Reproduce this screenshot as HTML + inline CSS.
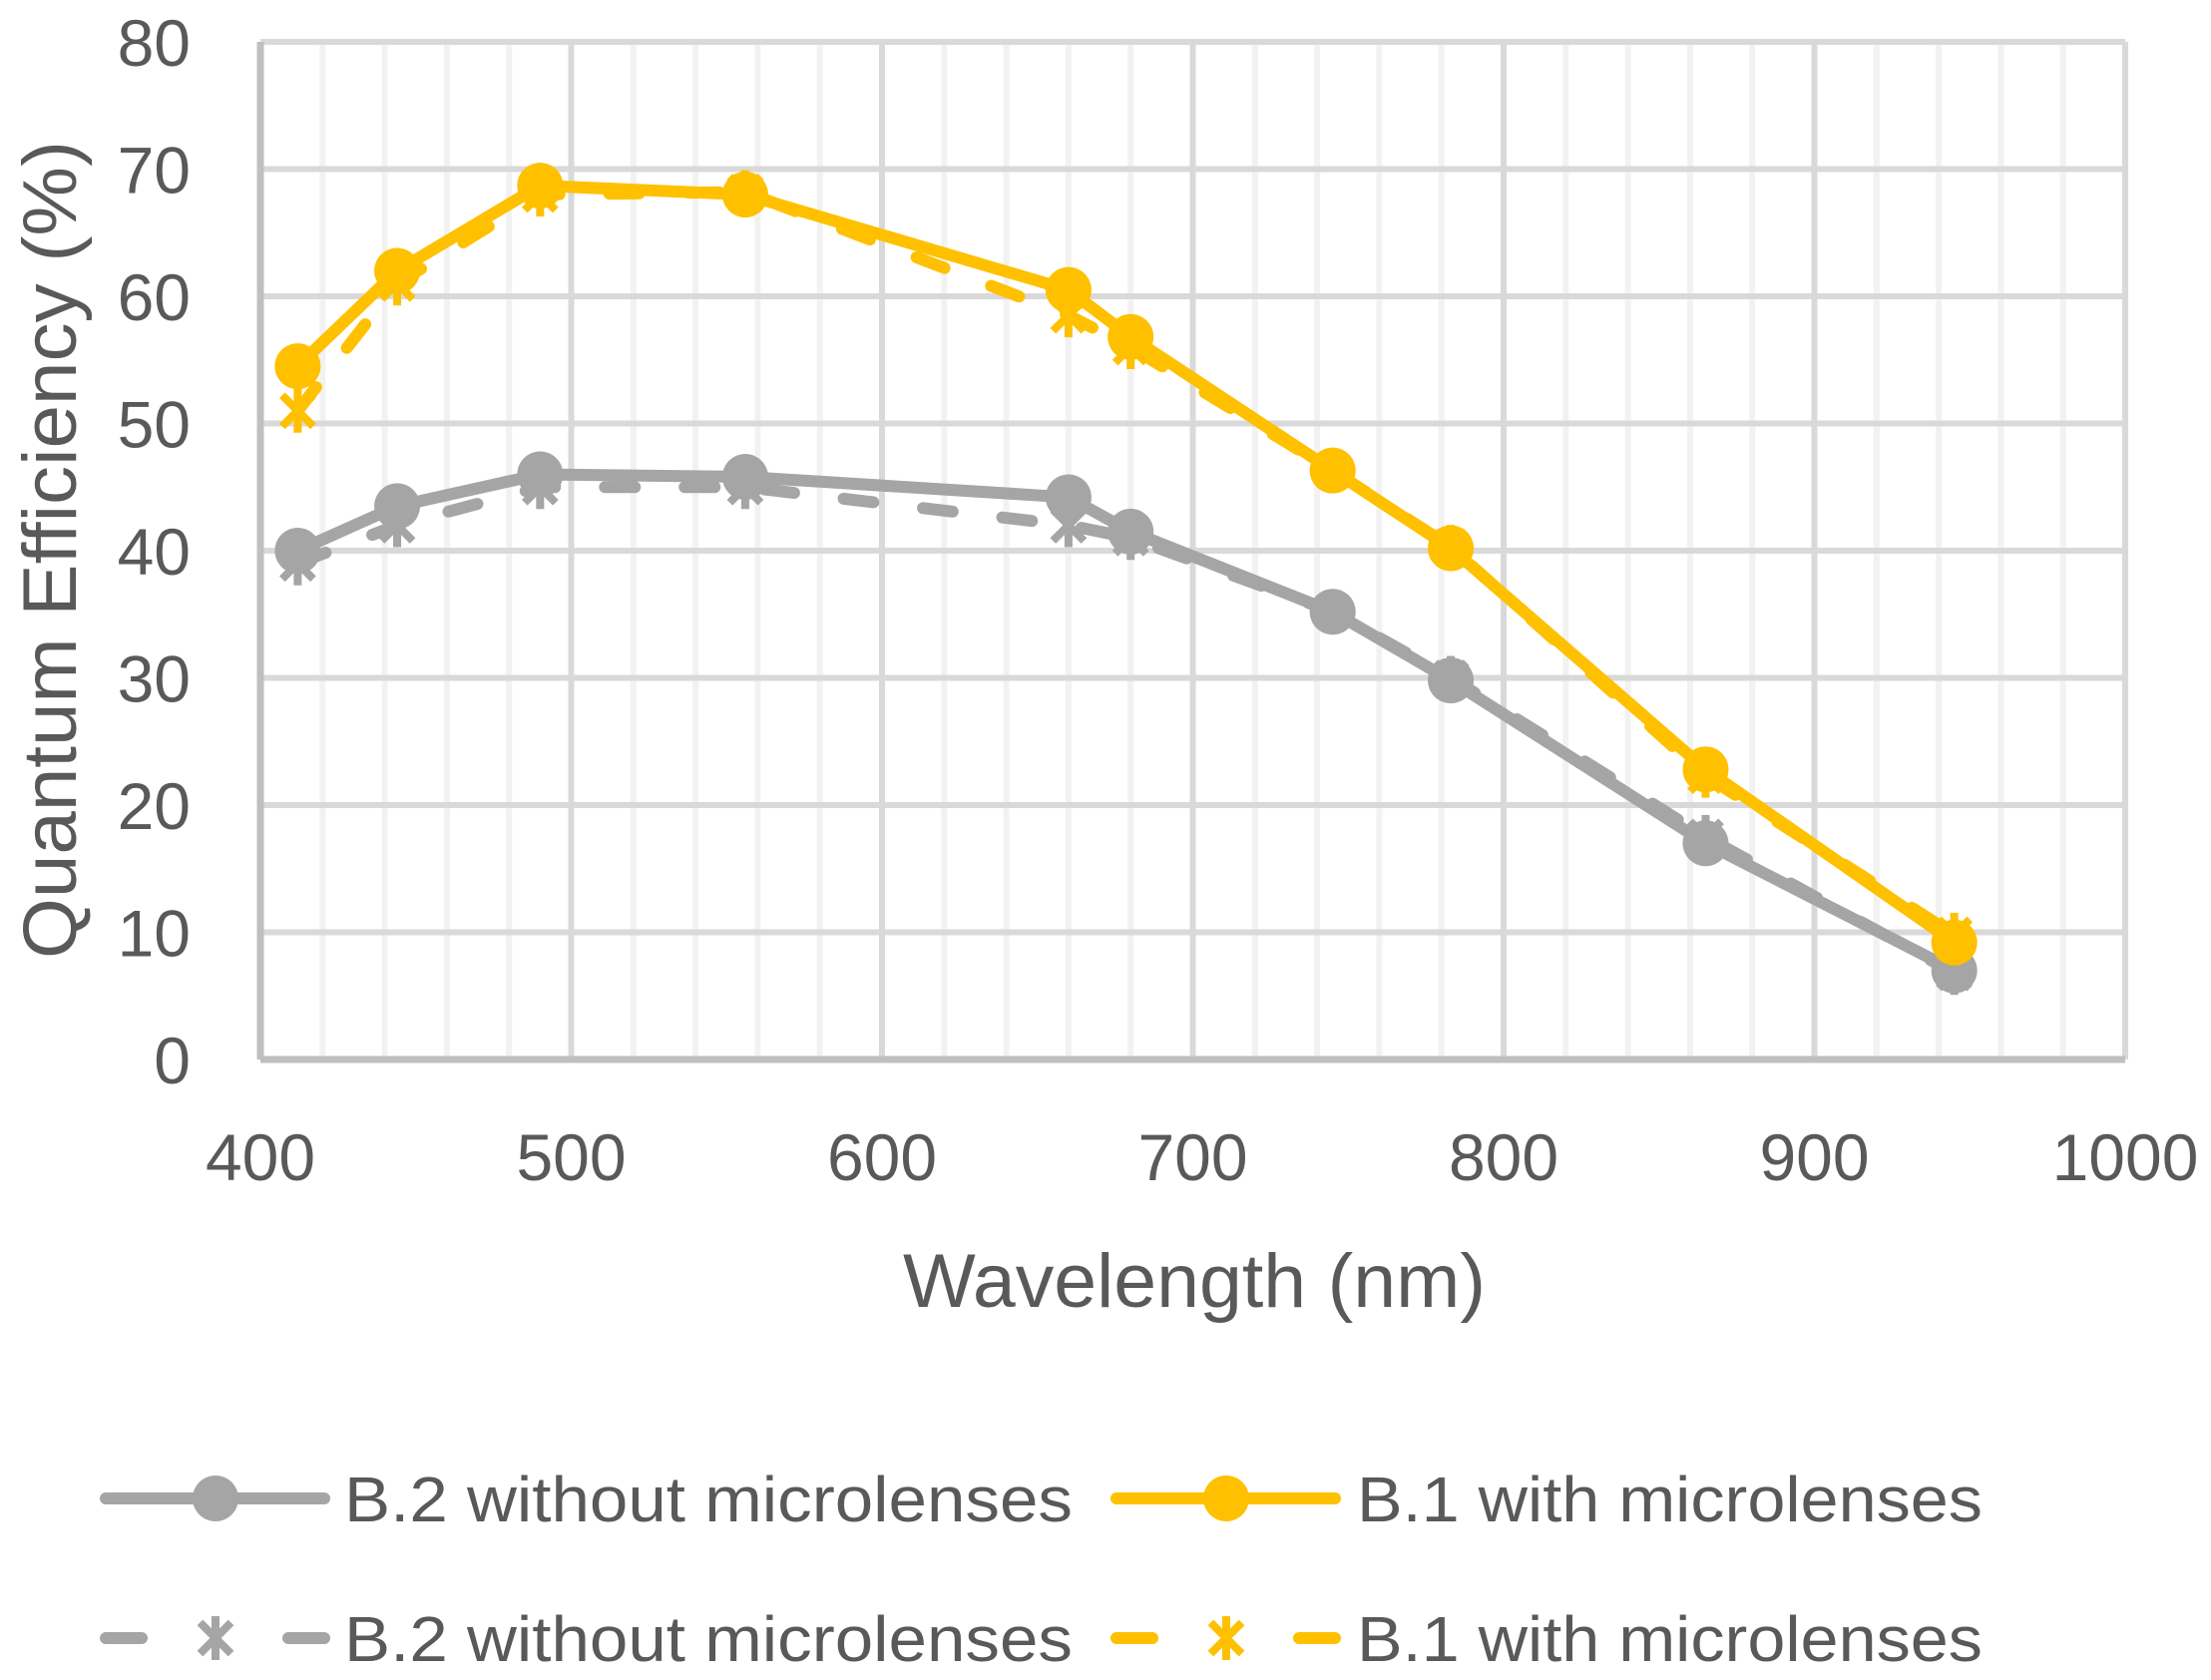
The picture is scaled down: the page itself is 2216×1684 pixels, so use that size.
<!DOCTYPE html>
<html><head><meta charset="utf-8"><style>html,body{margin:0;padding:0;background:#fff}svg{display:block}</style></head>
<body>
<svg id="chart" xmlns="http://www.w3.org/2000/svg" width="2216" height="1684" viewBox="0 0 2216 1684" font-family="'Liberation Sans', sans-serif">
<rect x="0" y="0" width="2216" height="1684" fill="#fff"/>
<g id="grid"></g>
<g id="axes"></g>
<g id="series"></g>
<text x="1197" y="1310" font-size="76" fill="#595959" text-anchor="middle" textLength="584" lengthAdjust="spacingAndGlyphs">Wavelength (nm)</text>
<text transform="translate(76,551) rotate(-90)" font-size="76" fill="#595959" text-anchor="middle" textLength="820" lengthAdjust="spacingAndGlyphs">Quantum Efficiency (%)</text>
<g id="legend"></g>
</svg>
<script>
const wavelengths = [412, 444, 490, 556, 660, 680, 745, 783, 865, 945];
const b2Solid = [40, 43.5, 46, 45.8, 44.2, 41.5, 35.2, 29.8, 17, 7];
const b2Dashed = [39, 42, 45, 45, 42, 41, 35.2, 30, 17.5, 6.8];
const b1Solid = [54.5, 62, 68.7, 68, 60.5, 56.8, 46.3, 40.2, 22.8, 9.2];
const b1Dashed = [51, 61, 68, 68.2, 58.5, 56, 46.3, 40.3, 22.3, 9.8];
const xTicks = [400, 500, 600, 700, 800, 900, 1000];
const yTicks = [0, 10, 20, 30, 40, 50, 60, 70, 80];

const NS = 'http://www.w3.org/2000/svg';
const L = 261, R = 2130, T = 42, B = 1062;
const xs = v => L + (v - 400) / 600 * (R - L);
const ys = v => B - v / 80 * (B - T);
function mk(tag, attrs, parent) {
  const e = document.createElementNS(NS, tag);
  for (const k in attrs) e.setAttribute(k, attrs[k]);
  parent.appendChild(e);
  return e;
}
const grid = document.getElementById('grid');
for (let v = 420; v < 1000; v += 20) {
  if (v % 100 === 0) continue;
  const l = mk('line', {x1: xs(v), x2: xs(v), y1: T, y2: B, stroke: '#F2F2F2', 'stroke-width': 6}, grid);
  
  
}
xTicks.forEach(v => {
  const l = mk('line', {x1: xs(v), x2: xs(v), y1: T, y2: B, stroke: '#D9D9D9', 'stroke-width': 6}, grid);
  
  
});
yTicks.forEach(v => {
  const l = mk('line', {x1: L, x2: R, y1: ys(v), y2: ys(v), stroke: '#D9D9D9', 'stroke-width': 6}, grid);
  
  
});
const axes = document.getElementById('axes');
const ax1 = mk('line', {x1: L, x2: R, y1: B, y2: B, stroke: '#BFBFBF', 'stroke-width': 7}, axes);


const ax2 = mk('line', {x1: L, x2: L, y1: T, y2: B, stroke: '#BFBFBF', 'stroke-width': 7}, axes);


xTicks.forEach(v => {
  const t = mk('text', {x: xs(v), y: 1183, 'font-size': 66, fill: '#595959', 'text-anchor': 'middle'}, axes);
  t.textContent = v;
  
  
});
yTicks.forEach(v => {
  const t = mk('text', {x: 191, y: ys(v) + 24, 'font-size': 66, fill: '#595959', 'text-anchor': 'end'}, axes);
  t.textContent = v;
  
  
});
function star(g, cx, cy, color, r) {
  for (let a = 0; a < 180; a += 45) {
    if (a === 0) continue;
    const rad = a * Math.PI / 180;
    mk('line', {x1: cx - r * Math.cos(rad), y1: cy - r * Math.sin(rad), x2: cx + r * Math.cos(rad), y2: cy + r * Math.sin(rad), stroke: color, 'stroke-width': 8}, g);
  }
}
const series = document.getElementById('series');
function drawSeries(vals, color, dashed, name) {
  const g = mk('g', {}, series);
  
  
  const pts = vals.map((v, i) => xs(wavelengths[i]) + ',' + ys(v)).join(' ');
  const attrs = {points: pts, fill: 'none', stroke: color, 'stroke-width': 12, 'stroke-linejoin': 'round', 'stroke-linecap': 'round'};
  if (dashed) attrs['stroke-dasharray'] = '30 50';
  const pl = mk('polyline', attrs, g);
  
  
  vals.forEach((v, i) => {
    const cx = xs(wavelengths[i]), cy = ys(v);
    if (dashed) {
      const m = mk('g', {}, g);
      
      
      star(m, cx, cy, color, 22);
    } else {
      const c = mk('circle', {cx: cx, cy: cy, r: 23, fill: color}, g);
      
      
    }
  });
}
drawSeries(b2Dashed, '#A5A5A5', true, 'b2-dashed-series');
drawSeries(b1Dashed, '#FFC000', true, 'b1-dashed-series');
drawSeries(b2Solid, '#A5A5A5', false, 'b2-solid-series');
drawSeries(b1Solid, '#FFC000', false, 'b1-solid-series');

const legend = document.getElementById('legend');
const entries = [
  {x: 106, y: 1502, color: '#A5A5A5', dashed: false, label: 'B.2 without microlenses', tx: 345, tl: 730},
  {x: 1119, y: 1502, color: '#FFC000', dashed: false, label: 'B.1 with microlenses', tx: 1360, tl: 627},
  {x: 106, y: 1642, color: '#A5A5A5', dashed: true, label: 'B.2 without microlenses', tx: 345, tl: 730},
  {x: 1119, y: 1642, color: '#FFC000', dashed: true, label: 'B.1 with microlenses', tx: 1360, tl: 627}
];
entries.forEach(e => {
  const g = mk('g', {}, legend);
  
  
  const attrs = {x1: e.x, x2: e.x + 219, y1: e.y, y2: e.y, stroke: e.color, 'stroke-width': 12, 'stroke-linecap': 'round'};
  if (e.dashed) attrs['stroke-dasharray'] = '36 147';
  mk('line', attrs, g);
  if (e.dashed) star(g, e.x + 110, e.y, e.color, 22);
  else mk('circle', {cx: e.x + 110, cy: e.y, r: 23, fill: e.color}, g);
  const t = mk('text', {x: e.tx, y: e.y + 23, 'font-size': 64, fill: '#595959', textLength: e.tl, lengthAdjust: 'spacingAndGlyphs'}, g);
  t.textContent = e.label;
});
</script>
</body></html>
